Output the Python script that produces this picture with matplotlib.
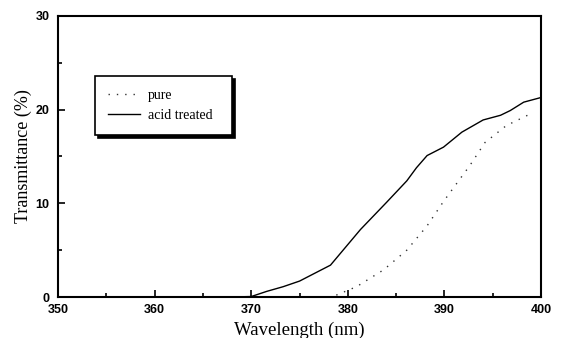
import matplotlib.pyplot as plt
from matplotlib.ticker import MultipleLocator

plt.rcParams['font.family'] = 'Liberation Serif'

# acid treated (solid line)
acid_nm = [350, 360, 368, 370, 371.6, 373.3, 375.0, 378.2, 381.3, 384.0, 386.1,
           387.1, 388.2, 389.9, 391.8, 394.0, 395.8, 396.8, 398.2, 400]
acid_T = [0.0, 0.0, 0.0, 0.05, 0.6, 1.1, 1.7, 3.4, 7.2, 10.1, 12.4,
          13.8, 15.1, 16.0, 17.6, 18.9, 19.4, 19.9, 20.8, 21.3]

# pure (dotted line)
pure_nm = [378.8, 380.9, 383.7, 386.1, 388.2, 389.9, 391.6, 392.6, 394.2,
           396.4, 397.8, 399.2]
pure_T = [0.2, 1.1, 2.9, 5.0, 7.6, 10.2, 12.6, 14.0, 16.5, 18.3, 19.0, 19.7]

fig = plt.figure(figsize=(5.65, 3.38), dpi=100)
ax = fig.add_axes([0.1027, 0.1213, 0.855, 0.8314])

ax.plot(pure_nm, pure_T, color='#333333', lw=1.0, ls=(0, (1, 5)), label='pure')
ax.plot(acid_nm, acid_T, color='black', lw=1.0, label='acid treated')

ax.set_xlim(350, 400)
ax.set_ylim(0, 30)
ax.xaxis.set_major_locator(MultipleLocator(10))
ax.xaxis.set_minor_locator(MultipleLocator(5))
ax.yaxis.set_major_locator(MultipleLocator(10))
ax.yaxis.set_minor_locator(MultipleLocator(5))
ax.tick_params(which='both', direction='in', width=1.2)
ax.tick_params(which='major', length=5)
ax.tick_params(which='minor', length=3)
ax.tick_params(axis='x', pad=5)
ax.tick_params(axis='y', pad=6)
for lab in ax.get_xticklabels() + ax.get_yticklabels():
    lab.set_family('Liberation Sans')
    lab.set_fontweight('bold')
    lab.set_fontsize(9)
for s in ax.spines.values():
    s.set_linewidth(1.5)

ax.set_xlabel('Wavelength (nm)', fontsize=13.5, labelpad=4)
ax.set_ylabel('Transmittance (%)', fontsize=13, labelpad=3)

leg = ax.legend(loc='upper left', bbox_to_anchor=(0.077, 0.584, 0.283, 0.202),
                mode='expand', borderaxespad=0, fancybox=False,
                shadow={'color': 'black', 'alpha': 1},
                edgecolor='black', fontsize=10, handlelength=2.3,
                handletextpad=0.6, labelspacing=0.55, borderpad=0.9,
                framealpha=1)
leg.get_frame().set_linewidth(1.2)

fig.savefig('out.png', dpi=100)
